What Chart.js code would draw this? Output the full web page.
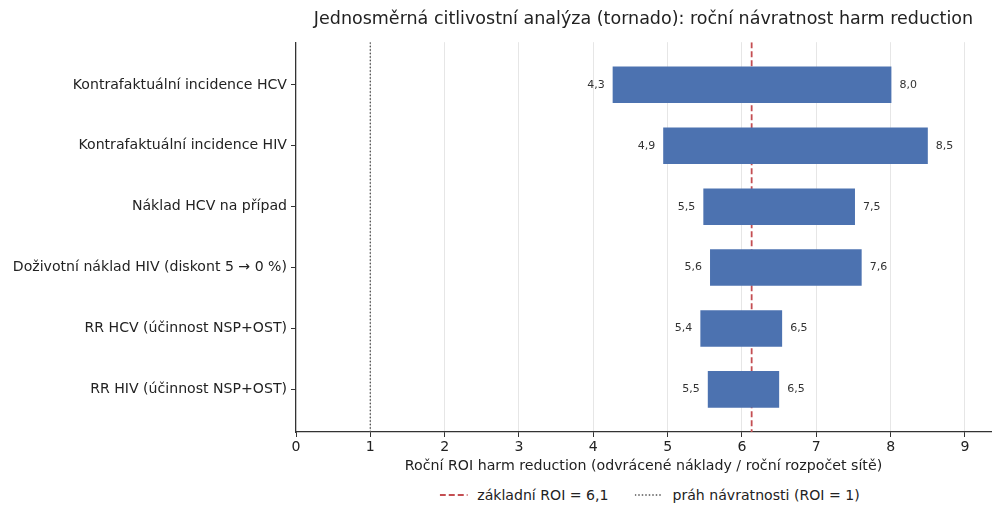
<!DOCTYPE html>
<html>
<head>
<meta charset="utf-8">
<script src="https://cdn.jsdelivr.net/npm/chart.js@4/dist/chart.umd.min.js"></script>
<style>
    html, body { margin: 0; padding: 0; background: #fff; }
    #wrap { position: relative; width: 992px; height: 505px; }
    #box { position: absolute; left: 0; top: 0; width: 992px; height: 482px; }
    #legend {
        position: absolute; top: 487px; left: 649px; transform: translateX(-50%);
        display: flex; align-items: center; white-space: nowrap;
        font-family: 'DejaVu Sans', sans-serif; font-size: 14.1px; color: #222;
    }
    #legend .item { display: flex; align-items: center; margin-right: 26px; }
    #legend .item:last-child { margin-right: 0; }
    #legend svg { margin-right: 10px; }
</style>
</head>
<body>
<div id="wrap">
    <div id="box"><canvas id="tornado"></canvas></div>
    <div id="legend"></div>
</div>
<script>
// tornado data: ROI at low / high end of each parameter's range
const factors = [
    'Kontrafaktuální incidence HCV',
    'Kontrafaktuální incidence HIV',
    'Náklad HCV na případ',
    'Doživotní náklad HIV (diskont 5 → 0 %)',
    'RR HCV (účinnost NSP+OST)',
    'RR HIV (účinnost NSP+OST)'
];
const lowRoi = [4.26, 4.94, 5.48, 5.57, 5.44, 5.54];
const highRoi = [8.01, 8.50, 7.52, 7.61, 6.54, 6.50];
const baseRoi = 6.13;
const breakEvenRoi = 1;
const xMax = 9.35;
const yMin = -0.7;
const yMax = 5.7;

const fmt = v => v.toFixed(1).replace('.', ',');

Chart.defaults.font.family = "'DejaVu Sans', sans-serif";
Chart.defaults.color = '#222';

// value labels at both ends of each bar
const endLabels = {
    id: 'endLabels',
    afterDatasetsDraw(chart) {
        const meta = chart.getDatasetMeta(0);
        const ctx = chart.ctx;
        ctx.save();
        ctx.font = "11px 'DejaVu Sans', sans-serif";
        ctx.fillStyle = '#333';
        ctx.textBaseline = 'middle';
        meta.data.forEach((bar, i) => {
            const p = bar.getProps(['x', 'y', 'base'], true);
            const left = Math.min(p.x, p.base);
            const right = Math.max(p.x, p.base);
            ctx.textAlign = 'right';
            ctx.fillText(fmt(lowRoi[i]), left - 8, p.y);
            ctx.textAlign = 'left';
            ctx.fillText(fmt(highRoi[i]), right + 8, p.y);
        });
        ctx.restore();
    }
};

// html legend built from the line datasets
const htmlLegend = {
    id: 'htmlLegend',
    afterUpdate(chart) {
        const el = document.getElementById('legend');
        el.innerHTML = '';
        chart.data.datasets.forEach(ds => {
            if (ds.type !== 'line') return;
            const item = document.createElement('div');
            item.className = 'item';
            const dash = (ds.borderDash || []).join(' ');
            item.innerHTML =
                '<svg width="28" height="10"><line x1="0" y1="5" x2="28" y2="5" stroke="' + ds.borderColor +
                '" stroke-width="' + ds.borderWidth + '" stroke-dasharray="' + dash + '"/></svg>';
            const span = document.createElement('span');
            span.textContent = ds.label;
            item.appendChild(span);
            el.appendChild(item);
        });
        const area = chart.chartArea;
        el.style.left = ((area.left + area.right) / 2 + 6) + 'px';
    }
};

const ctx = document.getElementById('tornado');
new Chart(ctx, {
    type: 'bar',
    data: {
        datasets: [
            {
                label: 'ROI',
                data: factors.map((f, i) => ({ x: [lowRoi[i], highRoi[i]], y: i })),
                backgroundColor: '#4c72b0',
                borderSkipped: false,
                barPercentage: 0.6,
                categoryPercentage: 1,
                order: 0
            },
            {
                type: 'line',
                label: 'základní ROI = 6,1',
                data: [{ x: baseRoi, y: yMin }, { x: baseRoi, y: yMax }],
                borderColor: '#c44e52',
                borderWidth: 1.8,
                borderDash: [6, 3],
                pointRadius: 0,
                order: 1
            },
            {
                type: 'line',
                label: 'práh návratnosti (ROI = 1)',
                data: [{ x: breakEvenRoi, y: yMin }, { x: breakEvenRoi, y: yMax }],
                borderColor: '#555555',
                borderWidth: 1.4,
                borderDash: [1.5, 2],
                pointRadius: 0,
                order: 1
            }
        ]
    },
    options: {
        indexAxis: 'y',
        responsive: true,
        maintainAspectRatio: false,
        animation: false,
        layout: { padding: { left: 0, right: 1, top: 0, bottom: 0 } },
        scales: {
            x: {
                type: 'linear',
                min: 0,
                max: xMax,
                ticks: { stepSize: 1, includeBounds: false, padding: 2, font: { size: 14.1 }, color: '#222' },
                grid: { color: '#e6e6e6', lineWidth: 1, tickColor: '#333', tickLength: 5 },
                border: { color: '#333', width: 1.2 },
                title: {
                    display: true,
                    text: 'Roční ROI harm reduction (odvrácené náklady / roční rozpočet sítě)',
                    font: { size: 14.2 },
                    color: '#222',
                    padding: { top: 2, bottom: 7 }
                },
                afterFit(scale) { scale.height = 50; }
            },
            y: {
                type: 'linear',
                reverse: true,
                offset: false,
                min: yMin,
                max: yMax,
                ticks: {
                    stepSize: 1,
                    includeBounds: false,
                    padding: 4,
                    font: { size: 14.1 },
                    color: '#222',
                    callback: v => factors[v] ?? ''
                },
                grid: { offset: false, drawOnChartArea: false, tickColor: '#333', tickLength: 5 },
                border: { color: '#333', width: 1.2 },
                afterFit(scale) { scale.width = 296; }
            }
        },
        plugins: {
            legend: { display: false },
            tooltip: { enabled: false },
            title: {
                display: true,
                text: 'Jednosměrná citlivostní analýza (tornado): roční návratnost harm reduction',
                fullSize: false,
                font: { size: 17.5, weight: 'normal' },
                color: '#222',
                padding: { top: 9, bottom: 12.2 }
            }
        }
    },
    plugins: [endLabels, htmlLegend]
});
</script>
</body>
</html>
